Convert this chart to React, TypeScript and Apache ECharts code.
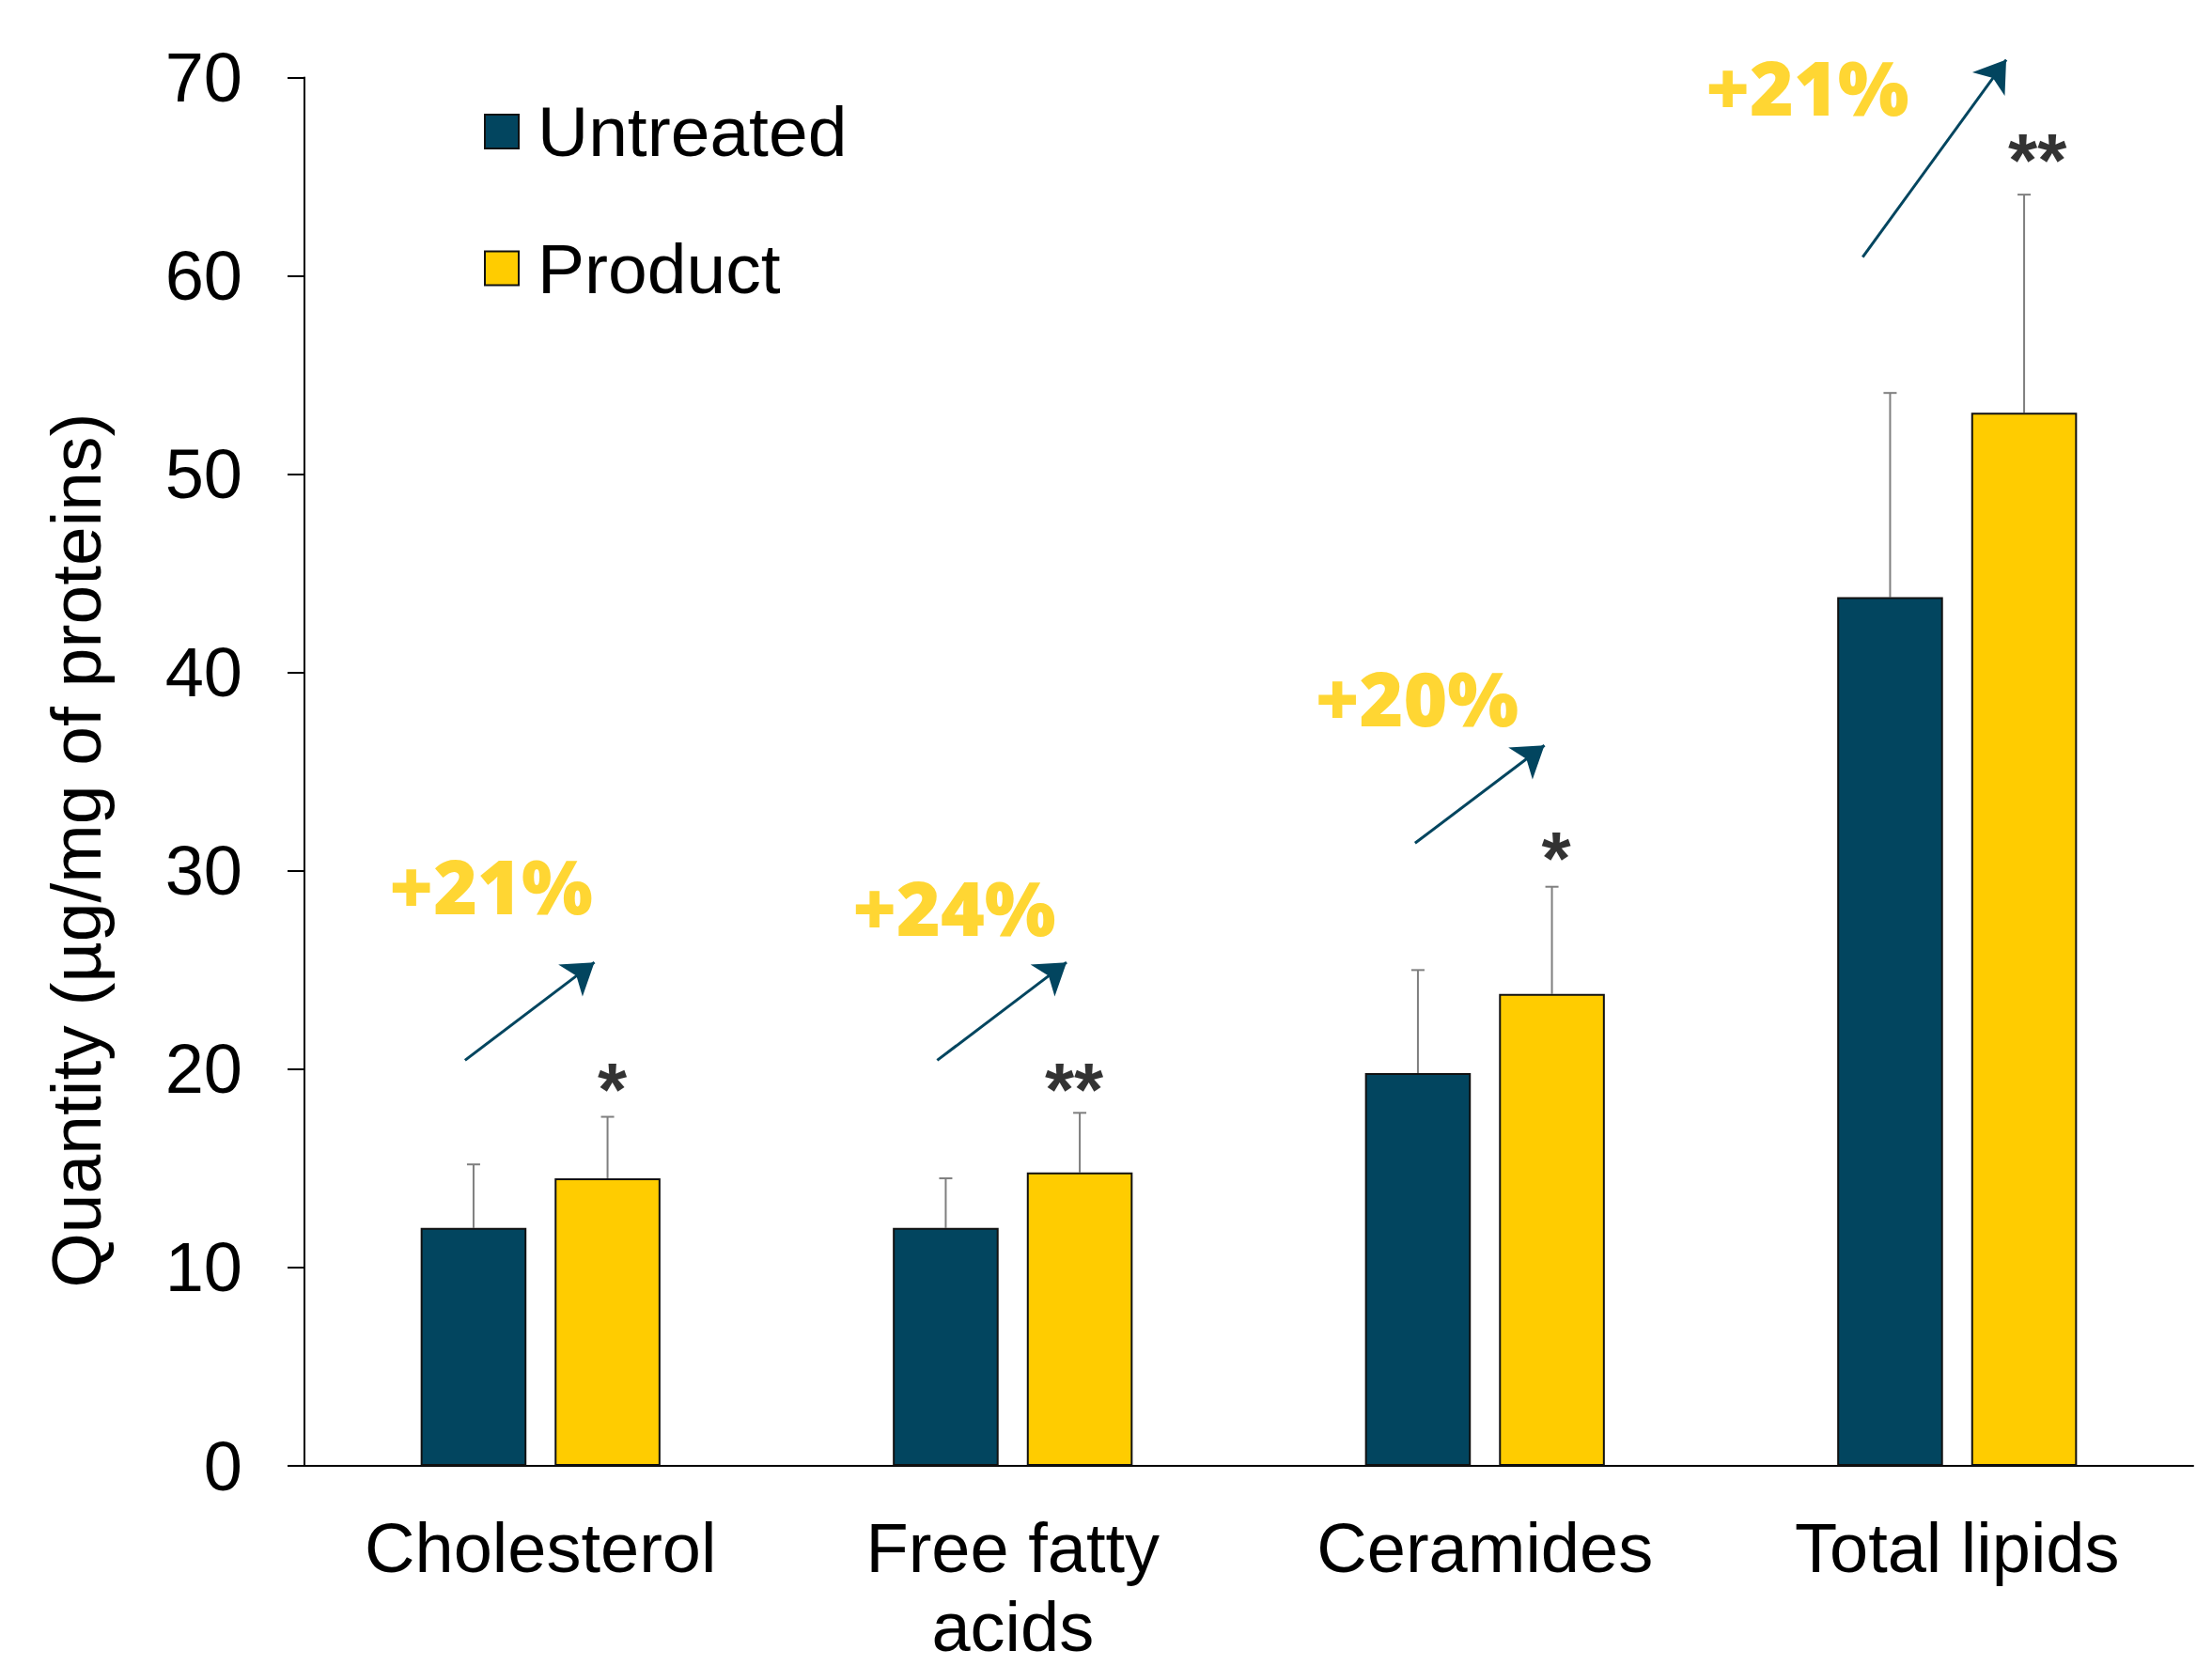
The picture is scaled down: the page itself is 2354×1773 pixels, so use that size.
import React, { useEffect, useRef } from "react";
import * as echarts from "echarts";

const categories = ["Cholesterol", "Free fatty\nacids", "Ceramides", "Total lipids"];
const seriesNames = ["Untreated", "Product"];
const untreated = [12.0, 12.0, 19.8, 43.8];
const untreatedErr = [3.2, 2.5, 5.2, 10.3];
const product = [14.5, 14.8, 23.8, 53.1];
const productErr = [3.1, 3.0, 5.4, 11.0];
const yTicks = { min: 0, max: 70, interval: 10 };

// annotation positions in data units (x: category index, y: value)
const pctLabels = ["+21%", "+24%", "+20%", "+21%"];
const pctPos: number[][] = [
  [-0.105, 29.3],
  [0.876, 28.2],
  [1.856, 38.8],
  [2.683, 69.6],
];
const starLabels = ["*", "**", "*", "**"];
const starPos: number[][] = [
  [0.152, 19.9],
  [1.13, 19.9],
  [2.151, 31.6],
  [3.17, 66.8],
];
const arrowStart: number[][] = [
  [-0.16, 20.45],
  [0.84, 20.45],
  [1.852, 31.4],
  [2.8, 60.95],
];
const arrowEnd: number[][] = [
  [0.114, 25.39],
  [1.114, 25.39],
  [2.126, 36.33],
  [3.104, 70.9],
];

const DARK = "#02455F";
const GOLD = "#FFCC00";
const BAR_W = 0.224;
const BAR_GAP = 0.267;
const FONT = "Liberation Sans, Arial, sans-serif";

export default function App() {
  const ref = useRef<HTMLDivElement>(null);
  useEffect(() => {
    const chart = echarts.init(ref.current!, null, { renderer: "svg" });
    const offFrac = (BAR_W * (1 + BAR_GAP)) / 2;
    const errData = (vals: number[], errs: number[]) => vals.map((v, i) => [i, v, errs[i]]);
    const errSeries = (vals: number[], errs: number[], side: number) => ({
      type: "custom",
      xAxisIndex: 0,
      yAxisIndex: 0,
      z: 1,
      silent: true,
      data: errData(vals, errs),
      renderItem: (params: any, api: any) => {
        const i = api.value(0);
        const v = api.value(1);
        const e = api.value(2);
        const band = api.size([1, 0])[0];
        const base = api.coord([i, v]);
        const top = api.coord([i, v + e]);
        const x = base[0] + side * band * offFrac;
        const cap = 7;
        const style = { stroke: "#7F7F7F", lineWidth: 2 };
        return {
          type: "group",
          children: [
            { type: "line", shape: { x1: x, y1: base[1], x2: x, y2: top[1] }, style },
            { type: "line", shape: { x1: x - cap, y1: top[1], x2: x + cap, y2: top[1] }, style },
          ],
        };
      },
    });

    chart.setOption({
      animation: false,
      backgroundColor: "#ffffff",
      grid: { left: 324, right: 20, top: 82.6, bottom: 195, containLabel: false },
      legend: {
        left: 510,
        top: 97.5,
        orient: "vertical",
        itemWidth: 36,
        itemHeight: 36,
        itemGap: 70.5,
        icon: "rect",
        data: seriesNames,
        textStyle: {
          fontFamily: FONT,
          fontSize: 75,
          lineHeight: 75,
          color: "#000",
          padding: [0, 0, 0, 15],
        },
      },
      xAxis: [
        {
          type: "category",
          data: categories,
          axisLine: { show: true, lineStyle: { color: "#000", width: 2 } },
          axisTick: { show: false },
          axisLabel: {
            fontFamily: FONT,
            fontSize: 74,
            lineHeight: 84,
            color: "#000",
            margin: 45,
          },
          splitLine: { show: false },
        },
        {
          type: "value",
          min: -0.5,
          max: 3.5,
          show: false,
          splitLine: { show: false },
        },
      ],
      yAxis: {
        type: "value",
        min: yTicks.min,
        max: yTicks.max,
        interval: yTicks.interval,
        axisLine: { show: true, onZero: false, lineStyle: { color: "#000", width: 2 } },
        axisTick: { show: true, length: 18, lineStyle: { color: "#000", width: 2 } },
        axisLabel: { fontFamily: FONT, fontSize: 74, color: "#000", margin: 66 },
        splitLine: { show: false },
      },
      graphic: [
        {
          type: "text",
          x: 81,
          y: 905,
          rotation: Math.PI / 2,
          style: {
            text: "Quantity (µg/mg of proteins)",
            fontFamily: FONT,
            fontSize: 75,
            fill: "#000",
            textAlign: "center",
            textVerticalAlign: "middle",
          },
        },
      ],
      series: [
        {
          name: seriesNames[0],
          type: "bar",
          xAxisIndex: 0,
          data: untreated,
          barWidth: (BAR_W * 100).toFixed(1) + "%",
          barGap: (BAR_GAP * 100).toFixed(1) + "%",
          itemStyle: { color: DARK, borderColor: "#111", borderWidth: 2 },
          z: 2,
        },
        {
          name: seriesNames[1],
          type: "bar",
          xAxisIndex: 0,
          data: product,
          barWidth: (BAR_W * 100).toFixed(1) + "%",
          barGap: (BAR_GAP * 100).toFixed(1) + "%",
          itemStyle: { color: GOLD, borderColor: "#111", borderWidth: 2 },
          z: 2,
        },
        errSeries(untreated, untreatedErr, -1),
        errSeries(product, productErr, 1),
        {
          type: "lines",
          coordinateSystem: "cartesian2d",
          xAxisIndex: 1,
          yAxisIndex: 0,
          clip: false,
          silent: true,
          symbol: ["none", "arrow"],
          symbolSize: 32,
          lineStyle: { color: DARK, width: 3, opacity: 1 },
          data: arrowStart.map((s, i) => ({ coords: [s, arrowEnd[i]] })),
          z: 5,
        },
        {
          type: "scatter",
          xAxisIndex: 1,
          yAxisIndex: 0,
          clip: false,
          silent: true,
          symbolSize: 0,
          data: pctPos.map((p, i) => ({ value: p, name: pctLabels[i] })),
          label: {
            show: true,
            position: "inside",
            formatter: (p: any) => p.name,
            fontFamily: "Open Sans",
            fontWeight: 800,
            fontSize: 80,
            color: GOLD,
          },
          z: 6,
        },
        {
          type: "scatter",
          xAxisIndex: 1,
          yAxisIndex: 0,
          clip: false,
          silent: true,
          symbolSize: 0,
          data: starPos.map((p, i) => ({ value: p, name: starLabels[i] })),
          label: {
            show: true,
            position: "inside",
            offset: [0, 20],
            formatter: (p: any) => p.name,
            fontFamily: FONT,
            fontWeight: "bold",
            fontSize: 80,
            color: "#000",
          },
          z: 6,
        },
      ],
    });
    return () => chart.dispose();
  }, []);
  return (
    <div
      ref={ref}
      style={{ position: "fixed", left: 0, top: 0, width: 2354, height: 1773, background: "#fff" }}
    />
  );
}
